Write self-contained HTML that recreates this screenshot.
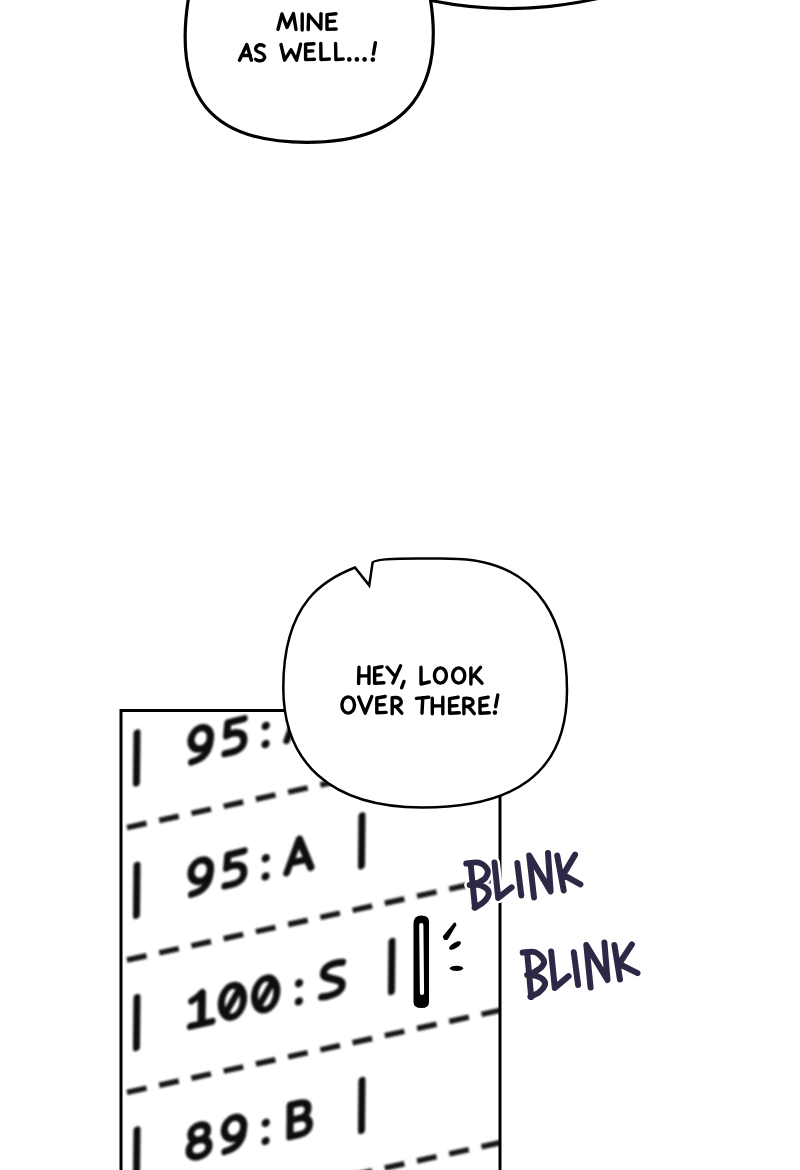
<!DOCTYPE html>
<html><head><meta charset="utf-8"><style>
html,body{margin:0;padding:0;background:#fff;}
svg{display:block;}
</style></head><body>
<svg width="800" height="1170" viewBox="0 0 800 1170">
<defs><filter id="bl" x="-10%" y="-10%" width="120%" height="120%"><feGaussianBlur stdDeviation="1.25"/></filter>
<clipPath id="panel"><rect x="122" y="712" width="377" height="470"/></clipPath></defs>
<rect width="800" height="1170" fill="#fff"/>
<path d="M189.5,-8 C170.6,98.6 213.1,142.4 306.8,142.4 C409.7,142.4 446.4,86.2 429.2,-8" fill="#fff" stroke="#000" stroke-width="3.2"/>
<path d="M431,0.5 Q513,17.5 598,-1.5" fill="none" stroke="#000" stroke-width="3.2"/>
<g clip-path="url(#panel)" filter="url(#bl)">
<path d="M127,827.6 L520,741.1" stroke="#161616" stroke-width="5.5" stroke-dasharray="20 13"/><path d="M127,960.0 L520,873.5" stroke="#161616" stroke-width="5.5" stroke-dasharray="20 13"/><path d="M127,1092.4 L520,1005.9" stroke="#161616" stroke-width="5.5" stroke-dasharray="20 13"/><path d="M127,1224.8 L520,1138.3" stroke="#161616" stroke-width="5.5" stroke-dasharray="20 13"/>
<g transform="translate(137.0,730.0) matrix(1,-0.220,-0.010,1,0,0)"><path d="M0,3 L0,53" stroke="#111" stroke-width="7" stroke-linecap="round"/><path d="M225,3 L225,53" stroke="#111" stroke-width="7" stroke-linecap="round"/><g fill="none" stroke="#111" stroke-width="6.8" stroke-linecap="round" stroke-linejoin="round"><g transform="translate(62.4,12) scale(1.05)"><ellipse cx="1.5" cy="10" rx="9.3" ry="10"/><path d="M10.6,9.5 C11,22 6,30 -7,30.5"/></g><g transform="translate(95.7,12) scale(1.05)"><path d="M11,0.3 L-4.5,0.8 L-5.5,13 C-1,11 11,10.5 11,20.5 C11,28.5 4,30.5 -7,29.5"/></g><g transform="translate(129.0,12) scale(1.05)"><circle cx="0" cy="11.7" r="3.9" fill="#111" stroke="none"/><circle cx="0" cy="29" r="3.9" fill="#111" stroke="none"/></g><g transform="translate(162.3,12) scale(1.05)"><path d="M-11.5,30 L0,0.5 L11.5,30 M-6.8,21.5 L7,21.5"/></g></g></g><g transform="translate(137.0,862.3) matrix(1,-0.220,-0.010,1,0,0)"><path d="M0,3 L0,53" stroke="#111" stroke-width="7" stroke-linecap="round"/><path d="M225,3 L225,53" stroke="#111" stroke-width="7" stroke-linecap="round"/><g fill="none" stroke="#111" stroke-width="6.8" stroke-linecap="round" stroke-linejoin="round"><g transform="translate(62.4,12) scale(1.05)"><ellipse cx="1.5" cy="10" rx="9.3" ry="10"/><path d="M10.6,9.5 C11,22 6,30 -7,30.5"/></g><g transform="translate(95.7,12) scale(1.05)"><path d="M11,0.3 L-4.5,0.8 L-5.5,13 C-1,11 11,10.5 11,20.5 C11,28.5 4,30.5 -7,29.5"/></g><g transform="translate(129.0,12) scale(1.05)"><circle cx="0" cy="11.7" r="3.9" fill="#111" stroke="none"/><circle cx="0" cy="29" r="3.9" fill="#111" stroke="none"/></g><g transform="translate(162.3,12) scale(1.05)"><path d="M-11.5,30 L0,0.5 L11.5,30 M-6.8,21.5 L7,21.5"/></g></g></g><g transform="translate(137.0,994.6) matrix(1,-0.220,-0.010,1,0,0)"><path d="M0,3 L0,53" stroke="#111" stroke-width="7" stroke-linecap="round"/><path d="M255,3 L255,53" stroke="#111" stroke-width="7" stroke-linecap="round"/><g fill="none" stroke="#111" stroke-width="6.8" stroke-linecap="round" stroke-linejoin="round"><g transform="translate(63.9,12) scale(1.05)"><path d="M-8.5,6 C-4,4.5 -1,2 1,0.3 L1,30 M-9.5,30 L11,30"/><path d="M1,1 L1,29" stroke-width="7.5"/></g><g transform="translate(95.7,12) scale(1.05)"><ellipse cx="0" cy="15" rx="10.6" ry="15"/><path d="M-5.5,23.5 L5.5,6.5"/></g><g transform="translate(129.0,12) scale(1.05)"><ellipse cx="0" cy="15" rx="10.6" ry="15"/><path d="M-5.5,23.5 L5.5,6.5"/></g><g transform="translate(162.3,12) scale(1.05)"><circle cx="0" cy="11.7" r="3.9" fill="#111" stroke="none"/><circle cx="0" cy="29" r="3.9" fill="#111" stroke="none"/></g><g transform="translate(195.6,12) scale(1.05)"><path d="M9.5,1 C6,0 -8,-1.5 -8.5,7.5 C-9,14 9,15 9.5,22 C10,30.5 -4,31 -10,29.5"/></g></g></g><g transform="translate(137.0,1126.9) matrix(1,-0.220,-0.010,1,0,0)"><path d="M0,3 L0,53" stroke="#111" stroke-width="7" stroke-linecap="round"/><path d="M225,3 L225,53" stroke="#111" stroke-width="7" stroke-linecap="round"/><g fill="none" stroke="#111" stroke-width="6.8" stroke-linecap="round" stroke-linejoin="round"><g transform="translate(62.4,12) scale(1.05)"><path d="M0,14 C-6.5,13.8 -8,10 -8,7 C-8,2.5 -4.5,0 0,0 C4.5,0 8,2.5 8,7 C8,10.5 6,13.8 0,14 C-6.5,14.2 -9.5,17.5 -9.5,22 C-9.5,27 -5,30 0,30 C5,30 9.5,27 9.5,22 C9.5,17.5 6.5,14.2 0,14 Z"/></g><g transform="translate(95.7,12) scale(1.05)"><ellipse cx="1.5" cy="10" rx="9.3" ry="10"/><path d="M10.6,9.5 C11,22 6,30 -7,30.5"/></g><g transform="translate(129.0,12) scale(1.05)"><circle cx="0" cy="11.7" r="3.9" fill="#111" stroke="none"/><circle cx="0" cy="29" r="3.9" fill="#111" stroke="none"/></g><g transform="translate(162.3,12) scale(1.05)"><path d="M-8.5,0 L-8.5,30 L1,30 C7,30 10,27 10,22.3 C10,17.5 6.5,14.5 0.5,14.5 L-8.5,14.5 M-8.5,0 L0,0 C6,0 8.5,3 8.5,7 C8.5,11.5 5.5,14.5 0.5,14.5"/></g></g></g>
</g>
<rect x="121" y="710.5" width="379" height="500" fill="none" stroke="#000" stroke-width="3"/>
<path d="M372.6,562.6 C375.2,556.8 436.9,558.7 449.3,558.7 C546.5,558.7 567,632.4 567,690.4 C567,775 512,807.5 422.3,807.5 C330.2,807.5 283.3,762.3 283.3,687.5 C283.3,600.3 326.8,578.5 355.0,567.5 L369.2,585.4 Z" fill="#fff" stroke="#000" stroke-width="2.5" stroke-linejoin="miter"/>
<g fill="none" stroke="#000" stroke-width="3.4" stroke-linecap="round" stroke-linejoin="round">
<path d="M278,29.4 L282,14 L287,27.5 L293.4,13.6 L296,29.6 M302.2,14 L302.2,30 M308.2,29.6 L308.6,14.5 L320.8,29 L321,13.6 M336,13.8 L327,14.6 L327,29.4 L336.2,29 M327,21.5 L334.6,21.1"/>
<path d="M239.5,60.2 L246.8,44.5 L251.4,60.2 M241.3,55.6 L250.3,55.2 M264,46 C262,44 257.5,44.2 256,47.5 C254.5,51 259,52 261,53 C265,54.8 265.8,58 263,60 C260.5,61.5 257,60.8 255.6,59.2 M281,44.6 L284.6,60.2 L291,49.8 L296.6,60.2 L300.6,44.2 M314,43.8 L305.6,44.2 L305.6,59.6 L314.5,59.2 M305.8,51.3 L312.8,50.9 M320.8,43.4 L321,59.6 L329.4,59 M335.6,43.4 L335.9,59.6 L343.2,59 M375.4,42.6 L373.4,54"/>
<path d="M359,667.2 L358.6,683.6 M369,666.8 L369,683.6 M358.8,676 L368.8,675.6 M382,666.8 L374.6,668 L374.6,683.2 L384,682.8 M374.8,675.3 L381,674.9 M387,667.2 L393.8,675 M400.6,665.8 L392.8,683 M404,681.4 L401.6,687.8 M421,667.2 L421,684 L429.4,682 M470.9,668 L470.9,684 M480.6,667.2 L472.4,677 M474.8,675.5 L482,683.2"/>
<path d="M358.6,697 L365.2,713.2 L371.8,696.5 M385.2,696.5 L376.8,698 L376.8,712.8 L386.2,712.4 M377,705 L384.2,704.6 M392.2,713.8 L392.2,697.8 C397,697 400.5,698 401.2,701.5 C401.8,705 397,706.6 392.6,706.8 M396.4,707 L401.8,713.2 M416.4,698.4 L428.8,697.2 M422.8,697.8 L422,713.2 M432.3,698.2 L432.3,713.8 M442.8,697.2 L442.8,713.8 M432.4,706 L442.6,705.6 M458.2,697.2 L449.6,698.6 L449.6,713.2 L459.3,712.8 M450,706 L457,705.6 M463.9,713.8 L463.9,698.4 C468.5,697.6 472.5,698.6 473,702 C473.4,705 469,706.6 464.5,706.6 M468.3,706.4 L474.3,713.6 M488.2,697.2 L480,698.6 L480,713.2 L489.3,712.8 M480.4,706 L487,705.2 M497.8,695 L495.6,706.8"/>
<ellipse cx="440.4" cy="675.5" rx="6" ry="7.6"/><ellipse cx="458.7" cy="675.5" rx="6.1" ry="7.6"/><ellipse cx="348.2" cy="705" rx="6.3" ry="8.1"/>
</g>
<g fill="#000"><circle cx="349.3" cy="59.4" r="2.3"/><circle cx="356.9" cy="59.4" r="2.3"/><circle cx="364.6" cy="59.4" r="2.3"/><circle cx="372.8" cy="59.6" r="2.3"/><circle cx="494.9" cy="712.6" r="2.3"/></g>
<path d="M413.5,923.5 Q413.5,915.5 421.5,915.5 Q429,915.5 429,921.5 L429,1002 Q429,1008 421.5,1008 Q413.5,1008 413.5,1002 Z" fill="#000"/><path d="M421.3,925 L422,993" stroke="#fff" stroke-width="4.2" stroke-linecap="round"/>
<path d="M442.8,936.2 Q443.5,941.5 447.8,939.6 L456.3,925.2 Q456.5,921.5 454,922.8 Z" fill="#000"/><ellipse cx="455" cy="945.5" rx="6.8" ry="2.8" transform="rotate(-32 455 945.5)" fill="#000"/><ellipse cx="456.5" cy="968.3" rx="6.6" ry="2.6" fill="#000"/>
<path d="M466.3,863.6 C468.4,863.4 475.2,861.7 478.7,862.6 C482.2,863.5 486.0,866.7 487.2,869.1 C488.4,871.5 487.4,875.0 486.0,877.2 C484.6,879.4 481.4,881.2 478.7,882.5 C476.0,883.8 471.2,884.5 469.7,884.9 M469.7,884.9 C471.2,884.9 475.7,884.1 478.7,884.9 C481.7,885.7 486.1,887.9 487.6,889.8 C489.2,891.7 488.8,894.1 488.0,896.3 C487.2,898.5 484.9,900.9 482.7,902.8 C480.5,904.7 476.0,906.9 474.6,907.7 M470.6,863.8 L475,907.7 M494.5,862.6 L498.2,897.9 L511.6,887.4 M517.3,863 L521.3,895.5 M534,897.5 L529.2,855.5 L550.6,891.4 L548,852.9 M557.2,855.5 L563.7,890.5 M575.1,854.6 L563.7,873.9 M564.6,875.6 L580.4,884.4" fill="none" stroke="#fff" stroke-width="11" stroke-linecap="round" stroke-linejoin="round"/>
<path d="M466.3,863.6 C468.4,863.4 475.2,861.7 478.7,862.6 C482.2,863.5 486.0,866.7 487.2,869.1 C488.4,871.5 487.4,875.0 486.0,877.2 C484.6,879.4 481.4,881.2 478.7,882.5 C476.0,883.8 471.2,884.5 469.7,884.9 M469.7,884.9 C471.2,884.9 475.7,884.1 478.7,884.9 C481.7,885.7 486.1,887.9 487.6,889.8 C489.2,891.7 488.8,894.1 488.0,896.3 C487.2,898.5 484.9,900.9 482.7,902.8 C480.5,904.7 476.0,906.9 474.6,907.7 M470.6,863.8 L475,907.7 M494.5,862.6 L498.2,897.9 L511.6,887.4 M517.3,863 L521.3,895.5 M534,897.5 L529.2,855.5 L550.6,891.4 L548,852.9 M557.2,855.5 L563.7,890.5 M575.1,854.6 L563.7,873.9 M564.6,875.6 L580.4,884.4" fill="none" stroke="#2b2945" stroke-width="6" stroke-linecap="round" stroke-linejoin="round"/>
<path d="M522.7,952.6 C524.8,952.5 531.8,950.9 535.3,952.2 C538.8,953.5 542.7,957.9 543.8,960.3 C544.9,962.7 543.5,964.8 541.8,966.8 C540.1,968.8 536.1,971.1 533.7,972.5 C531.3,973.9 528.3,974.5 527.2,974.9 M527.2,974.9 C528.6,975.0 532.6,974.9 535.3,975.7 C538.0,976.5 541.8,978.2 543.4,979.8 C545.0,981.4 545.4,983.5 544.7,985.5 C544.0,987.5 541.8,990.1 539.4,992.0 C537.0,993.9 531.9,996.1 530.4,996.9 M527.2,953 L531.2,996.9 M551.1,951.4 L554.8,987.9 L568.6,976.1 M573.8,952.3 L578.1,985 M590.6,987.5 L586.3,945 L607.5,980 L604.4,942.5 M614.4,945 L620,979.4 M631.9,944.4 L620,962.5 M621.3,965 L637.5,973.1" fill="none" stroke="#2b2945" stroke-width="6" stroke-linecap="round" stroke-linejoin="round"/>
</svg>
</body></html>
